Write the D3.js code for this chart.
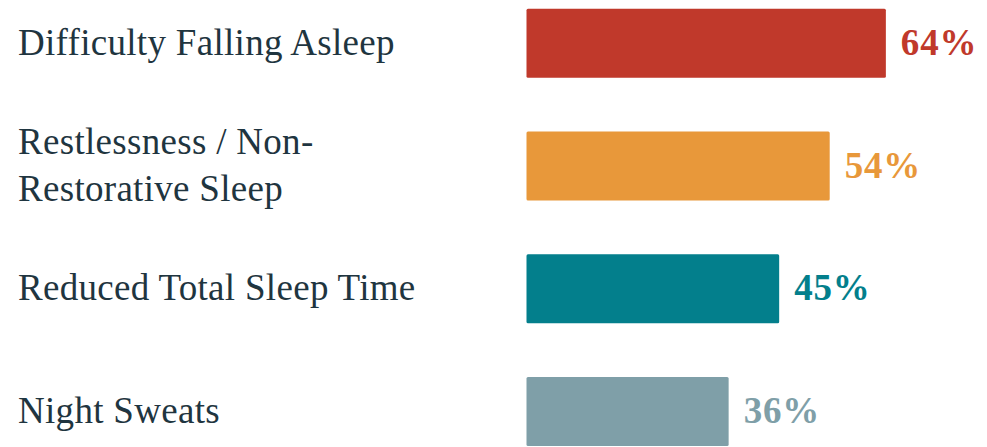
<!DOCTYPE html>
<html>
<head>
<meta charset="utf-8">
<script src="https://cdn.jsdelivr.net/npm/d3@7"></script>
<style>
  html, body { margin: 0; padding: 0; background: #ffffff; }
  svg { display: block; }
</style>
</head>
<body>
<svg id="chart" width="987" height="447"></svg>
<script>
// Sleep complaints: share of respondents reporting each symptom
const categories = [
  ["Difficulty Falling Asleep"],
  ["Restlessness / Non-", "Restorative Sleep"],
  ["Reduced Total Sleep Time"],
  ["Night Sweats"]
];
const keys = ["falling", "restless", "reduced", "sweats"];
const values = [64, 54, 45, 36];
const colors = ["#c0392b", "#e8983a", "#037f8c", "#7f9fa8"];

const width = 987, height = 447;
const svg = d3.select("#chart");

const x = d3.scaleLinear().domain([0, 100]).range([526.5, 1088]);
const y = d3.scaleBand().domain(keys).range([8.7, 446.1]).paddingInner(0.438).paddingOuter(0);

const rows = keys.map((k, i) => ({ key: k, lines: categories[i], value: values[i], color: colors[i] }));

const g = svg.append("g");

// bars
g.selectAll("rect.bar")
  .data(rows)
  .join("rect")
  .attr("class", "bar")
  .attr("x", x(0))
  .attr("y", d => y(d.key))
  .attr("width", d => x(d.value) - x(0))
  .attr("height", y.bandwidth())
  .attr("rx", 1.5)
  .attr("fill", d => d.color);

// category labels (left side)
const lineHeight = 47.5;
const labels = g.selectAll("text.cat")
  .data(rows)
  .join("text")
  .attr("class", "cat")
  .attr("x", 18)
  .attr("font-family", "'Liberation Serif', 'Times New Roman', serif")
  .attr("font-size", 37)
  .attr("letter-spacing", 0.3)
  .attr("fill", "#1f3540");

labels.each(function(d) {
  const t = d3.select(this);
  const cy = y(d.key) + y.bandwidth() / 2;
  const n = d.lines.length;
  d.lines.forEach((line, j) => {
    t.append("tspan")
      .attr("x", 18)
      .attr("y", cy + (j - (n - 1) / 2) * lineHeight + 11.5)
      .text(line);
  });
});

// value labels
g.selectAll("text.val")
  .data(rows)
  .join("text")
  .attr("class", "val")
  .attr("x", d => x(d.value) + 15)
  .attr("y", d => y(d.key) + y.bandwidth() / 2 + 11.5)
  .attr("font-family", "'Liberation Serif', 'Times New Roman', serif")
  .attr("font-weight", "bold")
  .attr("font-size", 37)
  .attr("letter-spacing", 0.8)
  .attr("fill", d => d.color)
  .text(d => d.value + "%");
</script>
</body>
</html>
